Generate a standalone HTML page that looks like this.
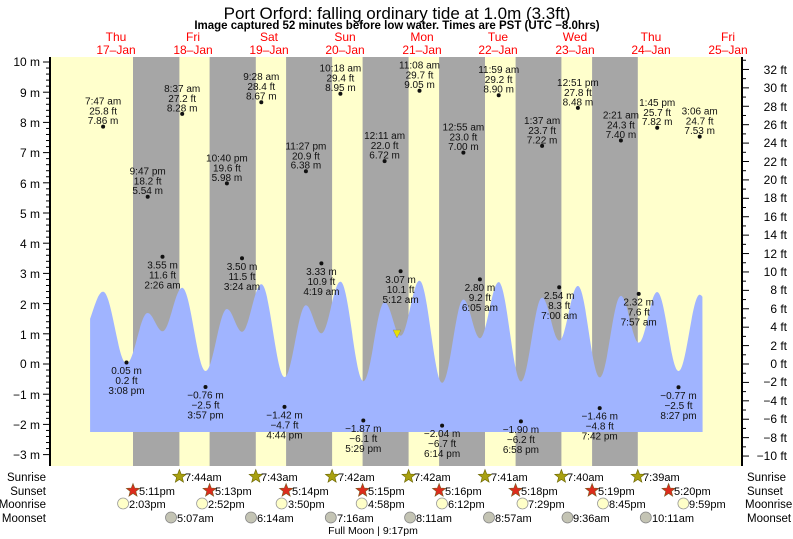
<!DOCTYPE html>
<html><head><meta charset="utf-8"><style>
html,body{margin:0;padding:0;background:#fff;}
svg{display:block;font-family:"Liberation Sans",Arial,sans-serif;}
</style></head><body>
<svg id="s" width="793" height="539" viewBox="0 0 793 539" xmlns="http://www.w3.org/2000/svg">
<defs>
<polygon id="star" points="0,-7 1.76,-2.43 6.66,-2.16 2.85,0.93 4.11,5.66 0,3 -4.11,5.66 -2.85,0.93 -6.66,-2.16 -1.76,-2.43"/>
</defs>
<rect x="0" y="0" width="793" height="539" fill="#fff"/>
<text x="397" y="19" font-size="17" text-anchor="middle">Port Orford: falling  ordinary tide at 1.0m (3.3ft)</text>
<text x="397" y="29" font-size="11.5" font-weight="bold" text-anchor="middle">Image captured 52 minutes before low water. Times are PST (UTC −8.0hrs)</text>
<g fill="#ff0000" font-size="12" text-anchor="middle">
<text x="116" y="41">Thu</text><text x="116" y="54">17–Jan</text>
<text x="193" y="41">Fri</text><text x="193" y="54">18–Jan</text>
<text x="269" y="41">Sat</text><text x="269" y="54">19–Jan</text>
<text x="345" y="41">Sun</text><text x="345" y="54">20–Jan</text>
<text x="422" y="41">Mon</text><text x="422" y="54">21–Jan</text>
<text x="498" y="41">Tue</text><text x="498" y="54">22–Jan</text>
<text x="575" y="41">Wed</text><text x="575" y="54">23–Jan</text>
<text x="651" y="41">Thu</text><text x="651" y="54">24–Jan</text>
<text x="728" y="41">Fri</text><text x="728" y="54">25–Jan</text>
</g>
<rect x="50" y="57" width="692" height="409" fill="#ffffcc"/>
<g fill="#a6a6a6">
<rect x="133" y="57" width="46.4" height="409"/>
<rect x="209.6" y="57" width="46.2" height="409"/>
<rect x="286.1" y="57" width="46" height="409"/>
<rect x="362.6" y="57" width="46" height="409"/>
<rect x="439.1" y="57" width="45.9" height="409"/>
<rect x="515.6" y="57" width="45.8" height="409"/>
<rect x="592.1" y="57" width="45.7" height="409"/>
</g>
<path id="tide" fill="#a0b4ff" d=""/>
<polygon points="393,330 401,330 397,338" fill="#e8e000" stroke="#888" stroke-width="0.5"/>
<line x1="50" y1="57" x2="50" y2="466" stroke="#000" stroke-width="2"/>
<line x1="742" y1="57" x2="742" y2="466" stroke="#000" stroke-width="2"/>
<g id="ticks" stroke="#000" stroke-width="1"></g>
<g font-size="12" text-anchor="end">
<text x="40" y="66">10 m</text><text x="40" y="97">9 m</text><text x="40" y="127">8 m</text><text x="40" y="157">7 m</text><text x="40" y="188">6 m</text><text x="40" y="218">5 m</text><text x="40" y="248">4 m</text><text x="40" y="278">3 m</text><text x="40" y="309">2 m</text><text x="40" y="339">1 m</text><text x="40" y="368">0 m</text><text x="40" y="399">−1 m</text><text x="40" y="429">−2 m</text><text x="40" y="459">−3 m</text>
</g>
<g font-size="12" text-anchor="end">
<text x="787" y="74">32 ft</text><text x="787" y="92">30 ft</text><text x="787" y="111">28 ft</text><text x="787" y="129">26 ft</text><text x="787" y="147">24 ft</text><text x="787" y="166">22 ft</text><text x="787" y="184">20 ft</text><text x="787" y="202">18 ft</text><text x="787" y="221">16 ft</text><text x="787" y="239">14 ft</text><text x="787" y="258">12 ft</text><text x="787" y="276">10 ft</text><text x="787" y="294">8 ft</text><text x="787" y="313">6 ft</text><text x="787" y="331">4 ft</text><text x="787" y="350">2 ft</text><text x="787" y="368">0 ft</text><text x="787" y="386">−2 ft</text><text x="787" y="405">−4 ft</text><text x="787" y="423">−6 ft</text><text x="787" y="442">−8 ft</text><text x="787" y="460">−10 ft</text>
</g>
<g font-size="10" text-anchor="middle" fill="#111">
<circle cx="103.1" cy="126.6" r="2"/><text x="103.1" y="104.6">7:47 am</text><text x="103.1" y="114.6">25.8 ft</text><text x="103.1" y="124">7.86 m</text>
<circle cx="147.7" cy="196.7" r="2"/><text x="147.7" y="174.7">9:47 pm</text><text x="147.7" y="184.7">18.2 ft</text><text x="147.7" y="194">5.54 m</text>
<circle cx="182.2" cy="113.9" r="2"/><text x="182.2" y="91.9">8:37 am</text><text x="182.2" y="101.9">27.2 ft</text><text x="182.2" y="111.3">8.28 m</text>
<circle cx="226.9" cy="183.4" r="2"/><text x="226.9" y="161.4">10:40 pm</text><text x="226.9" y="171.4">19.6 ft</text><text x="226.9" y="180.8">5.98 m</text>
<circle cx="261.3" cy="102.2" r="2"/><text x="261.3" y="80.2">9:28 am</text><text x="261.3" y="90.2">28.4 ft</text><text x="261.3" y="99.6">8.67 m</text>
<circle cx="305.9" cy="171.3" r="2"/><text x="305.9" y="149.3">11:27 pm</text><text x="305.9" y="159.3">20.9 ft</text><text x="305.9" y="168.7">6.38 m</text>
<circle cx="340.4" cy="93.7" r="2"/><text x="340.4" y="71.7">10:18 am</text><text x="340.4" y="81.7">29.4 ft</text><text x="340.4" y="91.1">8.95 m</text>
<circle cx="384.6" cy="161.1" r="2"/><text x="384.6" y="139.1">12:11 am</text><text x="384.6" y="149.1">22.0 ft</text><text x="384.6" y="158.5">6.72 m</text>
<circle cx="419.5" cy="90.7" r="2"/><text x="419.5" y="68.7">11:08 am</text><text x="419.5" y="78.7">29.7 ft</text><text x="419.5" y="88.1">9.05 m</text>
<circle cx="463.4" cy="152.6" r="2"/><text x="463.4" y="130.6">12:55 am</text><text x="463.4" y="140.6">23.0 ft</text><text x="463.4" y="150">7.00 m</text>
<circle cx="498.7" cy="95.2" r="2"/><text x="498.7" y="73.2">11:59 am</text><text x="498.7" y="83.2">29.2 ft</text><text x="498.7" y="92.6">8.90 m</text>
<circle cx="542.1" cy="145.9" r="2"/><text x="542.1" y="123.9">1:37 am</text><text x="542.1" y="133.9">23.7 ft</text><text x="542.1" y="143.3">7.22 m</text>
<circle cx="577.9" cy="107.9" r="2"/><text x="577.9" y="85.9">12:51 pm</text><text x="577.9" y="95.9">27.8 ft</text><text x="577.9" y="105.3">8.48 m</text>
<circle cx="620.9" cy="140.5" r="2"/><text x="620.9" y="118.5">2:21 am</text><text x="620.9" y="128.5">24.3 ft</text><text x="620.9" y="137.9">7.40 m</text>
<circle cx="657.2" cy="127.8" r="2"/><text x="657.2" y="105.8">1:45 pm</text><text x="657.2" y="115.8">25.7 ft</text><text x="657.2" y="125.2">7.82 m</text>
<circle cx="699.7" cy="136.6" r="2"/><text x="699.7" y="114.6">3:06 am</text><text x="699.7" y="124.6">24.7 ft</text><text x="699.7" y="134">7.53 m</text>
<circle cx="126.5" cy="362.5" r="2"/><text x="126.5" y="374">0.05 m</text><text x="126.5" y="384">0.2 ft</text><text x="126.5" y="394">3:08 pm</text>
<circle cx="162.5" cy="256.8" r="2"/><text x="162.5" y="268.3">3.55 m</text><text x="162.5" y="278.3">11.6 ft</text><text x="162.5" y="288.3">2:26 am</text>
<circle cx="205.5" cy="387" r="2"/><text x="205.5" y="398.5">−0.76 m</text><text x="205.5" y="408.5">−2.5 ft</text><text x="205.5" y="418.5">3:57 pm</text>
<circle cx="242" cy="258.3" r="2"/><text x="242" y="269.8">3.50 m</text><text x="242" y="279.8">11.5 ft</text><text x="242" y="289.8">3:24 am</text>
<circle cx="284.5" cy="406.9" r="2"/><text x="284.5" y="418.4">−1.42 m</text><text x="284.5" y="428.4">−4.7 ft</text><text x="284.5" y="438.4">4:44 pm</text>
<circle cx="321.4" cy="263.4" r="2"/><text x="321.4" y="274.9">3.33 m</text><text x="321.4" y="284.9">10.9 ft</text><text x="321.4" y="294.9">4:19 am</text>
<circle cx="363.3" cy="420.5" r="2"/><text x="363.3" y="432">−1.87 m</text><text x="363.3" y="442">−6.1 ft</text><text x="363.3" y="452">5:29 pm</text>
<circle cx="400.6" cy="271.3" r="2"/><text x="400.6" y="282.8">3.07 m</text><text x="400.6" y="292.8">10.1 ft</text><text x="400.6" y="302.8">5:12 am</text>
<circle cx="442.1" cy="425.6" r="2"/><text x="442.1" y="437.1">−2.04 m</text><text x="442.1" y="447.1">−6.7 ft</text><text x="442.1" y="457.1">6:14 pm</text>
<circle cx="479.9" cy="279.4" r="2"/><text x="479.9" y="290.9">2.80 m</text><text x="479.9" y="300.9">9.2 ft</text><text x="479.9" y="310.9">6:05 am</text>
<circle cx="520.9" cy="421.4" r="2"/><text x="520.9" y="432.9">−1.90 m</text><text x="520.9" y="442.9">−6.2 ft</text><text x="520.9" y="452.9">6:58 pm</text>
<circle cx="559.2" cy="287.3" r="2"/><text x="559.2" y="298.8">2.54 m</text><text x="559.2" y="308.8">8.3 ft</text><text x="559.2" y="318.8">7:00 am</text>
<circle cx="599.7" cy="408.1" r="2"/><text x="599.7" y="419.6">−1.46 m</text><text x="599.7" y="429.6">−4.8 ft</text><text x="599.7" y="439.6">7:42 pm</text>
<circle cx="638.7" cy="293.9" r="2"/><text x="638.7" y="305.4">2.32 m</text><text x="638.7" y="315.4">7.6 ft</text><text x="638.7" y="325.4">7:57 am</text>
<circle cx="678.5" cy="387.3" r="2"/><text x="678.5" y="398.8">−0.77 m</text><text x="678.5" y="408.8">−2.5 ft</text><text x="678.5" y="418.8">8:27 pm</text>
</g>
<g font-size="11.5" text-anchor="end">
<text x="46" y="481">Sunrise</text><text x="46" y="495">Sunset</text><text x="46" y="508">Moonrise</text><text x="46" y="522">Moonset</text>
</g>
<g font-size="11.5">
<text x="747" y="481">Sunrise</text><text x="747" y="495">Sunset</text><text x="745" y="508">Moonrise</text><text x="747" y="522">Moonset</text>
</g>
<g fill="#a8a010" stroke="#6a6400" stroke-width="0.6">
<use href="#star" x="179.4" y="476.5"/><use href="#star" x="255.8" y="476.5"/><use href="#star" x="332.1" y="476.5"/><use href="#star" x="408.6" y="476.5"/><use href="#star" x="485" y="476.5"/><use href="#star" x="561.4" y="476.5"/><use href="#star" x="637.8" y="476.5"/>
</g>
<g fill="#dd2b1c" stroke="#7a5a20" stroke-width="0.6">
<use href="#star" x="133" y="490.5"/><use href="#star" x="209.6" y="490.5"/><use href="#star" x="286.1" y="490.5"/><use href="#star" x="362.6" y="490.5"/><use href="#star" x="439.1" y="490.5"/><use href="#star" x="515.6" y="490.5"/><use href="#star" x="592.1" y="490.5"/><use href="#star" x="668.6" y="490.5"/>
</g>
<g fill="#ffffc8" stroke="#999" stroke-width="0.8">
<circle cx="123.1" cy="503.5" r="5.5"/><circle cx="202.1" cy="503.5" r="5.5"/><circle cx="281.6" cy="503.5" r="5.5"/><circle cx="361.7" cy="503.5" r="5.5"/><circle cx="442" cy="503.5" r="5.5"/><circle cx="522.5" cy="503.5" r="5.5"/><circle cx="603" cy="503.5" r="5.5"/><circle cx="683.4" cy="503.5" r="5.5"/>
</g>
<g fill="#c4c4b4" stroke="#888" stroke-width="0.8">
<circle cx="171" cy="517.5" r="5.5"/><circle cx="251" cy="517.5" r="5.5"/><circle cx="330.8" cy="517.5" r="5.5"/><circle cx="410.1" cy="517.5" r="5.5"/><circle cx="489" cy="517.5" r="5.5"/><circle cx="567.5" cy="517.5" r="5.5"/><circle cx="645.8" cy="517.5" r="5.5"/>
</g>
<g font-size="11">
<text x="185" y="481">7:44am</text><text x="261" y="481">7:43am</text><text x="338" y="481">7:42am</text><text x="414" y="481">7:42am</text><text x="491" y="481">7:41am</text><text x="567" y="481">7:40am</text><text x="643" y="481">7:39am</text>
<text x="139" y="495">5:11pm</text><text x="215" y="495">5:13pm</text><text x="292" y="495">5:14pm</text><text x="368" y="495">5:15pm</text><text x="445" y="495">5:16pm</text><text x="521" y="495">5:18pm</text><text x="598" y="495">5:19pm</text><text x="674" y="495">5:20pm</text>
<text x="129" y="508">2:03pm</text><text x="208" y="508">2:52pm</text><text x="288" y="508">3:50pm</text><text x="368" y="508">4:58pm</text><text x="448" y="508">6:12pm</text><text x="528" y="508">7:29pm</text><text x="609" y="508">8:45pm</text><text x="689" y="508">9:59pm</text>
<text x="177" y="522">5:07am</text><text x="257" y="522">6:14am</text><text x="337" y="522">7:16am</text><text x="416" y="522">8:11am</text><text x="495" y="522">8:57am</text><text x="573" y="522">9:36am</text><text x="652" y="522">10:11am</text>
</g>
<text x="373" y="534" font-size="10.5" text-anchor="middle">Full Moon | 9:17pm</text>
</svg>
<script>
(function(){
var ex=[[1.0,3.37],[7.78,7.86],[15.13,0.05],[21.78,5.54],[26.43,3.55],[32.62,8.28],[39.95,-0.76],[46.67,5.98],[51.4,3.5],[57.47,8.67],[64.73,-1.42],[71.45,6.38],[76.32,3.33],[82.3,8.95],[89.48,-1.87],[96.18,6.72],[101.2,3.07],[107.13,9.05],[114.23,-2.04],[120.92,7.0],[126.08,2.8],[131.98,8.9],[138.97,-1.9],[145.62,7.22],[151,2.54],[156.85,8.48],[163.7,-1.46],[170.35,7.4],[175.95,2.32],[181.75,7.82],[188.45,-0.77],[195.1,7.53],[201,3.0]];
function val(h){for(var i=0;i<ex.length-1;i++){if(h>=ex[i][0]&&h<=ex[i+1][0]){var f=(h-ex[i][0])/(ex[i+1][0]-ex[i][0]);return ex[i][1]+(ex[i+1][1]-ex[i][1])*(1-Math.cos(Math.PI*f))/2;}}return 0;}
var h0=3.7,h1=196.0,d="M"+(78.3+h0*3.185).toFixed(1)+",432";
for(var h=h0;h<=h1+0.001;h+=0.25){var x=78.3+h*3.185,y=364-30.2*val(h)/3.281;d+=" L"+x.toFixed(1)+","+y.toFixed(1);}
d+=" L"+(78.3+h1*3.185).toFixed(1)+",432 Z";
document.getElementById("tide").setAttribute("d",d);
var g=document.getElementById("ticks"),ns="http://www.w3.org/2000/svg";
function ln(a,b,c,e){var l=document.createElementNS(ns,"line");l.setAttribute("x1",a);l.setAttribute("y1",b);l.setAttribute("x2",c);l.setAttribute("y2",e);g.appendChild(l);}
for(var m=-3;m<=10.01;m+=0.2){var y=364-30.2*m;var maj=Math.abs(m-Math.round(m))<0.01;ln(maj?43:46,y,50,y);}
for(var ft=-10;ft<=33;ft++){var y=364-30.2*ft/3.281;if(y<57)continue;ln(742,y,ft%2==0?749:746,y);}
})();
</script>
</body></html>
